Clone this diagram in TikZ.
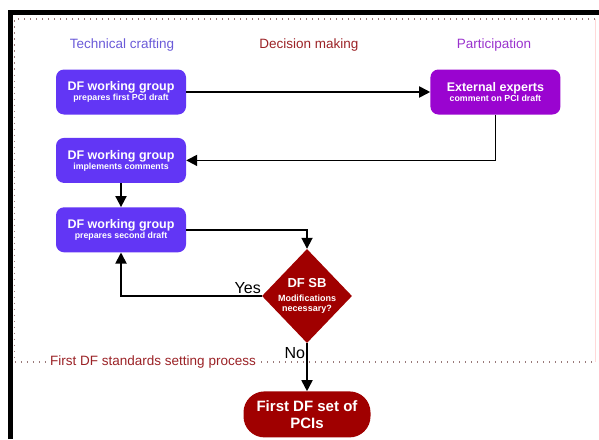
\documentclass[tikz,border=0pt]{standalone}
\usepackage{fontspec}
\setmainfont{Liberation Sans}
\usepackage{xcolor}
\usetikzlibrary{shapes,arrows.meta,positioning}

\definecolor{wgblue}{HTML}{6236F5}
\definecolor{expviolet}{HTML}{9A04D0}
\definecolor{sbred}{HTML}{A00000}
\definecolor{headblue}{HTML}{6A5AD8}
\definecolor{headred}{HTML}{9B2226}
\definecolor{headviolet}{HTML}{9A32CD}
\definecolor{dotgray}{HTML}{9A7A7A}

\newcommand{\boxtitle}[2]{\fontsize{12.5}{15}\selectfont #1\\[-2pt]\fontsize{8.8}{10}\selectfont #2}

\begin{document}
\begin{tikzpicture}[
    x=1pt, y=-1pt,
    box/.style={rectangle, rounded corners=8pt, fill=wgblue, text=white, font=\bfseries,
        minimum width=130pt, minimum height=45pt, align=center, inner sep=2pt},
    head/.style={font=\fontsize{13.5}{16}\selectfont},
    lbl/.style={font=\fontsize{16}{18}\selectfont, inner sep=1pt},
    arrow/.style={-{Triangle[length=11pt,width=11pt]}, line width=1.8pt}
]
    \useasboundingbox (0,0) rectangle (599,439);

    % frame and process area
    \draw[line width=4.5pt] (10.5,439) -- (10.5,12.5) -- (599,12.5);
    \draw[red!15, line width=0.8pt] (595,19) -- (595,362);
    \draw[dotgray, line width=1.3pt, dash pattern=on 1.3pt off 4.7pt] (595,19) -- (14.5,19) -- (14.5,362) -- (595,362);
    \node[fill=white, text=headred, head, inner xsep=4pt] (proc) at (153,362) {First DF standards setting process};

    % column headings
    \node[head, text=headblue] (htech) at (122,45) {Technical crafting};
    \node[head, text=headred] (hdec) at (309,45) {Decision making};
    \node[head, text=headviolet] (hpart) at (494,45) {Participation};

    % steps
    \node[box] (first) at (121,92) {\boxtitle{DF working group}{prepares first PCI draft}};
    \node[box, fill=expviolet, right=244pt of first] (experts) {\boxtitle{External experts}{comment on PCI draft}};
    \node[box, below=23pt of first] (impl) {\boxtitle{DF working group}{implements comments}};
    \node[box, below=24pt of impl] (second) {\boxtitle{DF working group}{prepares second draft}};
    \node[diamond, fill=sbred, text=white, font=\bfseries\fontsize{9}{10.5}\selectfont, align=center, inner sep=-5pt,
        minimum width=90pt, minimum height=94pt] (sb) at (307,296)
        {\fontsize{13}{15}\selectfont DF SB\\[3pt]Modifications\\necessary?};
    \node[box, fill=sbred, rounded corners=21pt, minimum width=127pt, minimum height=46pt,
        font=\bfseries\fontsize{15}{17}\selectfont, below=48pt of sb] (pcis) {First DF set of\\PCIs};

    \draw[arrow] (first) -- (experts);
    \draw[arrow] (experts.south) |- (impl.east);
    \draw[arrow] (impl) -- (second);
    \draw[arrow] (second.east) -| (sb.north);
    \draw[arrow] (sb.west) -| node[pos=0.05, above, lbl] {Yes} (second.south);
    \draw[arrow] (sb.south) -- node[pos=0.2, left, lbl] {No} (pcis);
\end{tikzpicture}
\end{document}
